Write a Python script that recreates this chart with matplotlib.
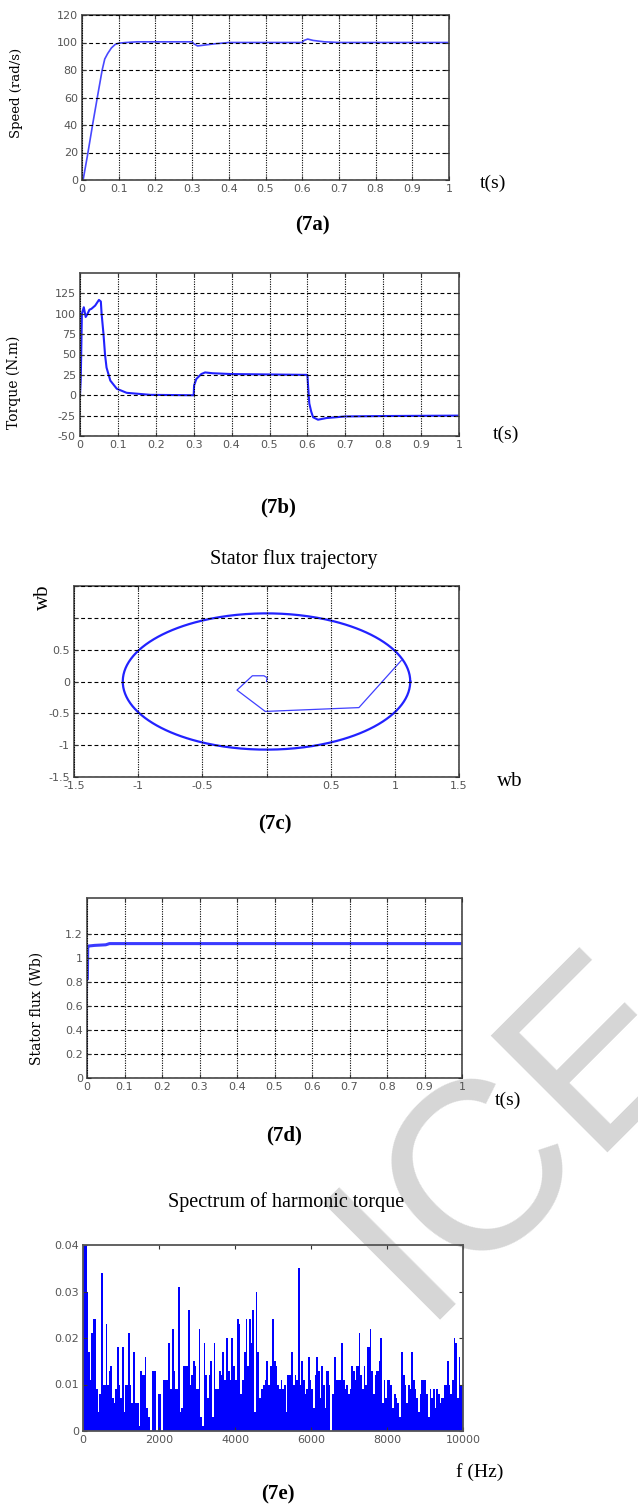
import numpy as np
import matplotlib
matplotlib.use('Agg')
import matplotlib.pyplot as plt

plt.rcParams['axes.unicode_minus'] = False

W, H = 638, 1509

# ---- data ----
t_speed = [0, 0.003, 0.015, 0.03, 0.045, 0.055, 0.062, 0.07, 0.08, 0.09, 0.1, 0.12, 0.15, 0.2,
           0.3, 0.305, 0.315, 0.33, 0.36, 0.4, 0.6, 0.605, 0.615, 0.63, 0.66, 0.7, 0.8, 1.0]
speed = [0, 0, 18, 42, 65, 80, 88, 92, 96, 98.5, 99.5, 100, 100.5, 100.5,
         100.5, 99, 97.5, 98, 99, 100, 100, 101.5, 102.5, 101.5, 100.5, 100, 100, 100]

t_torque = [0, 0.002, 0.005, 0.01, 0.015, 0.02, 0.025, 0.03, 0.04, 0.05, 0.055, 0.057, 0.062,
            0.066, 0.07, 0.08, 0.097, 0.123, 0.185, 0.3, 0.301, 0.307, 0.32, 0.33, 0.35, 0.4,
            0.5, 0.6, 0.602, 0.605, 0.61, 0.615, 0.628, 0.65, 0.7, 0.8, 1.0]
torque = [0, 20, 100, 108, 96, 100, 105, 106, 110, 117, 115, 100, 75,
          50, 34, 18, 8, 3, 0.5, 0, 12, 20, 26, 28, 27, 26,
          25.5, 25, 10, -10, -20, -27, -30, -28, -26, -25.5, -25]

# stator flux trajectory: start-up path, then steady circle
path_d = [0, 0.005, -0.02, -0.11, -0.23, -0.01, 0.72, 1.05]
path_q = [0, 0.06, 0.09, 0.09, -0.135, -0.47, -0.41, 0.33]
flux_rd, flux_rq = 1.12, 1.07

t_flux = [0, 0.0005, 0.001, 0.002, 0.005, 0.02, 0.05, 0.06, 1.0]
flux = [0, 0.5, 0.83, 1.1, 1.1, 1.105, 1.11, 1.12, 1.12]

freq = [0, 105, 132, 175, 219, 263, 325, 351, 386, 421,
        482, 526, 596, 632, 675, 719, 763, 807, 851, 895,
        939, 982, 1026, 1070, 1114, 1184, 1228, 1272, 1316, 1360,
        1404, 1465, 1509, 1561, 1623, 1667, 1711, 1772, 1816, 1868,
        1930, 1974, 2018, 2061, 2105, 2167, 2237, 2281, 2342, 2386,
        2430, 2500, 2544, 2588, 2632, 2693, 2763, 2807, 2851, 2895,
        2939, 2982, 3044, 3088, 3140, 3175, 3219, 3263, 3307, 3351,
        3395, 3439, 3482, 3526, 3570, 3623, 3667, 3711, 3772, 3816,
        3860, 3904, 3947, 3991, 4053, 4096, 4140, 4193, 4237, 4281,
        4316, 4368, 4412, 4447, 4491, 4544, 4588, 4632, 4675, 4737,
        4781, 4825, 4868, 4912, 4982, 5026, 5070, 5114, 5158, 5202,
        5246, 5290, 5333, 5377, 5421, 5482, 5526, 5570, 5614, 5658,
        5702, 5746, 5790, 5833, 5877, 5921, 5965, 6009, 6053, 6096,
        6140, 6184, 6228, 6272, 6316, 6360, 6404, 6465, 6509, 6553,
        6605, 6649, 6693, 6737, 6798, 6842, 6886, 6930, 6974, 7018,
        7061, 7105, 7149, 7193, 7254, 7298, 7342, 7386, 7430, 7482,
        7544, 7588, 7632, 7675, 7719, 7781, 7825, 7868, 7912, 7956,
        8000, 8044, 8088, 8132, 8184, 8228, 8272, 8316, 8377, 8421,
        8465, 8509, 8553, 8597, 8640, 8684, 8728, 8772, 8816, 8860,
        8904, 8947, 8991, 9035, 9079, 9123, 9167, 9211, 9254, 9298,
        9342, 9386, 9430, 9491, 9535, 9579, 9623, 9667, 9711, 9754,
        9798, 9842, 9886, 9930]
amp = [0.040, 0.030, 0.017, 0.011, 0.021, 0.024, 0.024, 0.009, 0.004, 0.008,
       0.034, 0.010, 0.023, 0.010, 0.013, 0.014, 0.007, 0.006, 0.009, 0.018,
       0.010, 0.007, 0.018, 0.004, 0.010, 0.021, 0.010, 0.006, 0.017, 0.006,
       0.006, 0.001, 0.013, 0.012, 0.016, 0.005, 0.003, 0.000, 0.013, 0.013,
       0.000, 0.008, 0.008, 0.000, 0.011, 0.011, 0.019, 0.009, 0.022, 0.013,
       0.009, 0.031, 0.004, 0.005, 0.014, 0.014, 0.026, 0.010, 0.012, 0.015,
       0.014, 0.009, 0.022, 0.003, 0.001, 0.019, 0.012, 0.007, 0.012, 0.015,
       0.003, 0.019, 0.009, 0.009, 0.013, 0.012, 0.017, 0.011, 0.020, 0.013,
       0.011, 0.020, 0.014, 0.011, 0.024, 0.023, 0.008, 0.011, 0.017, 0.024,
       0.014, 0.024, 0.019, 0.026, 0.004, 0.030, 0.017, 0.007, 0.009, 0.010,
       0.011, 0.015, 0.010, 0.014, 0.024, 0.015, 0.014, 0.010, 0.009, 0.011,
       0.009, 0.010, 0.004, 0.012, 0.012, 0.017, 0.010, 0.012, 0.011, 0.035,
       0.010, 0.015, 0.011, 0.008, 0.009, 0.016, 0.011, 0.009, 0.005, 0.012,
       0.016, 0.013, 0.007, 0.014, 0.010, 0.005, 0.013, 0.010, 0.000, 0.008,
       0.016, 0.011, 0.011, 0.011, 0.019, 0.011, 0.009, 0.010, 0.008, 0.009,
       0.014, 0.013, 0.011, 0.014, 0.021, 0.012, 0.009, 0.014, 0.010, 0.018,
       0.022, 0.013, 0.008, 0.012, 0.013, 0.015, 0.020, 0.006, 0.011, 0.007,
       0.011, 0.011, 0.010, 0.005, 0.008, 0.007, 0.006, 0.003, 0.017, 0.012,
       0.010, 0.006, 0.010, 0.009, 0.017, 0.011, 0.009, 0.007, 0.004, 0.008,
       0.011, 0.011, 0.011, 0.008, 0.003, 0.009, 0.007, 0.009, 0.005, 0.009,
       0.008, 0.006, 0.007, 0.010, 0.010, 0.015, 0.010, 0.008, 0.011, 0.020,
       0.019, 0.007, 0.016, 0.010]

t_ticks = [0, 0.1, 0.2, 0.3, 0.4, 0.5, 0.6, 0.7, 0.8, 0.9, 1]
t_labels = ['0', '0.1', '0.2', '0.3', '0.4', '0.5', '0.6', '0.7', '0.8', '0.9', '1']

# ---- figure ----
fig = plt.figure(figsize=(W / 100, H / 100), dpi=100)
SERIF = 'Liberation Serif'
BLUE = '#2222ff'


def rect(l, t, r, b):
    return [l / W, 1 - b / H, (r - l) / W, (b - t) / H]


def ftext(x, y, s, **kw):
    kw.setdefault('family', SERIF)
    kw.setdefault('ha', 'center')
    kw.setdefault('va', 'center')
    fig.text(x / W, 1 - y / H, s, **kw)


def style(ax, grid=True):
    ax.set_facecolor('none')
    for sp in ax.spines.values():
        sp.set_color('#555555')
        sp.set_linewidth(1.3)
    ax.tick_params(direction='in', top=True, right=True, length=3, width=0.8,
                   labelsize=8, labelcolor='#555555', color='#333333', pad=3)
    if grid:
        ax.xaxis.grid(True, color='black', linewidth=0.8, linestyle=(0, (1, 1.2)))
        ax.yaxis.grid(True, color='black', linewidth=0.8, linestyle=(0, (3.5, 2.5)))
        ax.set_axisbelow(False)


# watermark behind the axes
fig.text(516 / W, 1 - 1134 / H, 'ICE', rotation=45, fontsize=173, color='#d6d6d6',
         family='Liberation Sans', ha='center', va='center',
         rotation_mode='anchor', zorder=-5)

# (7a) speed
ax = fig.add_axes(rect(82, 15, 449, 180))
ax.plot(t_speed, speed, color='#4848ff', lw=1.2)
ax.set_xlim(0, 1)
ax.set_ylim(0, 120)
ax.set_xticks(t_ticks)
ax.set_xticklabels(t_labels)
ax.set_yticks([0, 20, 40, 60, 80, 100, 120])
style(ax)
ftext(17, 93, 'Speed (rad/s)', rotation=90, fontsize=9.5, family='DejaVu Serif')
ftext(493, 183, 't(s)', fontsize=14)
ftext(312, 225, '(7a)', fontsize=15, weight='bold')

# (7b) torque
ax = fig.add_axes(rect(80, 273, 459, 436))
ax.plot(t_torque, torque, color=BLUE, lw=1.5)
ax.set_xlim(0, 1)
ax.set_ylim(-50, 150)
ax.set_xticks(t_ticks)
ax.set_xticklabels(t_labels)
ax.set_yticks([-50, -25, 0, 25, 50, 75, 100, 125])
style(ax)
ftext(14, 382, 'Torque (N.m)', rotation=90, fontsize=10, family='DejaVu Serif')
ftext(506, 434, 't(s)', fontsize=14)
ftext(278, 507, '(7b)', fontsize=15, weight='bold')

# (7c) flux trajectory
ax = fig.add_axes(rect(74, 586, 459, 777))
theta = np.linspace(0, 2 * np.pi, 400)
ax.plot(flux_rd * np.cos(theta), flux_rq * np.sin(theta), color=BLUE, lw=1.6)
ax.plot(path_d, path_q, color='#4040ff', lw=0.9)
ax.set_xlim(-1.5, 1.5)
ax.set_ylim(-1.5, 1.5)
ax.set_xticks([-1.5, -1, -0.5, 0, 0.5, 1, 1.5])
ax.set_xticklabels(['-1.5', '-1', '-0.5', '', '0.5', '1', '1.5'])
ax.set_yticks([-1.5, -1, -0.5, 0, 0.5, 1, 1.5])
ax.set_yticklabels(['-1.5', '-1', '-0.5', '0', '0.5', '', ''])
style(ax)
ftext(294, 559, 'Stator flux trajectory', fontsize=14.5)
ftext(43, 597, 'wb', rotation=90, fontsize=15)
ftext(510, 782, 'wb', fontsize=15)
ftext(275, 824, '(7c)', fontsize=15, weight='bold')

# (7d) flux magnitude
ax = fig.add_axes(rect(87, 898, 462, 1078))
ax.plot(t_flux[:3], flux[:3], color='#3a3aff', lw=1.0)
ax.plot(t_flux[2:], flux[2:], color='#3a3aff', lw=2.2)
ax.set_xlim(0, 1)
ax.set_ylim(0, 1.5)
ax.set_xticks(t_ticks)
ax.set_xticklabels(t_labels)
ax.set_yticks([0, 0.2, 0.4, 0.6, 0.8, 1.0, 1.2])
ax.set_yticklabels(['0', '0.2', '0.4', '0.6', '0.8', '1', '1.2'])
style(ax)
ftext(37, 1008, 'Stator flux (Wb)', rotation=90, fontsize=10, family='DejaVu Serif')
ftext(508, 1100, 't(s)', fontsize=14)
ftext(284, 1135, '(7d)', fontsize=15, weight='bold')

# (7e) torque spectrum
ax = fig.add_axes(rect(83, 1245, 463, 1431))
widths = list(np.diff(freq)) + [70]
ax.bar(freq, amp, width=widths, align='edge', color='#0000ff', edgecolor='none')
ax.set_xlim(0, 10000)
ax.set_ylim(0, 0.04)
ax.set_xticks([0, 2000, 4000, 6000, 8000, 10000])
ax.set_yticks([0, 0.01, 0.02, 0.03, 0.04])
ax.set_yticklabels(['0', '0.01', '0.02', '0.03', '0.04'])
style(ax, grid=False)
ftext(286, 1202, 'Spectrum of harmonic torque', fontsize=14.5)
ftext(480, 1472, 'f (Hz)', fontsize=14)
ftext(278, 1494, '(7e)', fontsize=15, weight='bold')

fig.savefig('out.png', dpi=100, facecolor='white')
